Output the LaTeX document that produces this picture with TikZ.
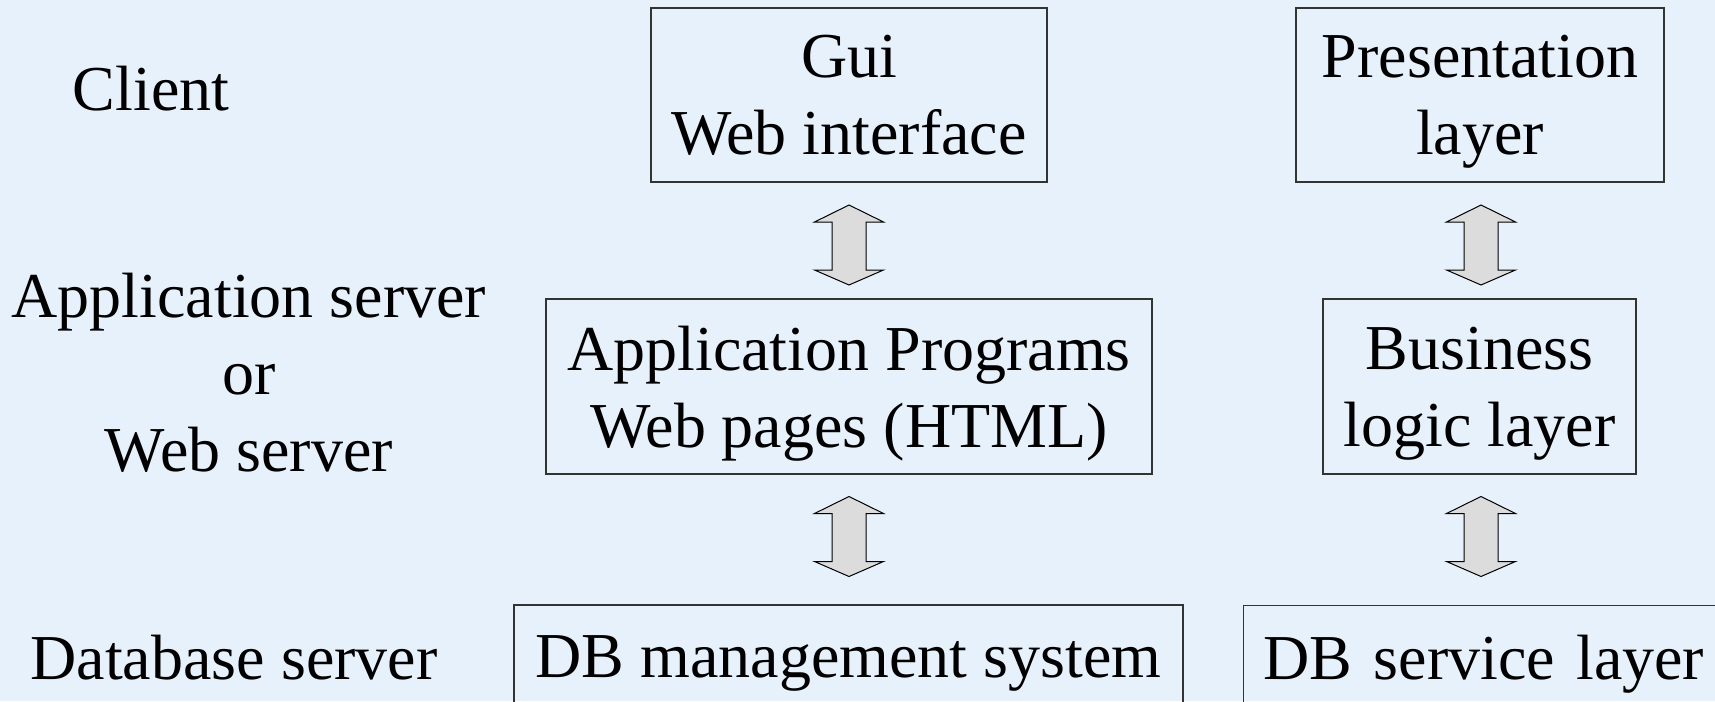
\documentclass[tikz,border=0pt]{standalone}
\usepackage{fontspec}
\setmainfont{Liberation Serif}
\usetikzlibrary{calc}
\definecolor{bgblue}{RGB}{231,241,252}
\definecolor{arrowgray}{RGB}{220,220,220}
\tikzset{
  textfont/.style={font=\fontsize{64}{77}\selectfont, text depth=0pt},
  layerbox/.style={textfont, draw=black!80, line width=1.1pt, rectangle,
    inner sep=0pt, align=center},
  tierlabel/.style={textfont, inner sep=0pt, align=center},
  dblarrow/.style={fill=arrowgray, draw=black, line width=1pt, line join=miter}
}
% vertical double block arrow around a named centre point
\newcommand{\tierarrow}[1]{%
  \draw[dblarrow] ($(#1)+(0,-40)$) -- ($(#1)+(34.5,-23)$) -- ($(#1)+(17,-23)$)
    -- ($(#1)+(17,25)$) -- ($(#1)+(34.5,25)$) -- ($(#1)+(0,40)$)
    -- ($(#1)+(-34.5,25)$) -- ($(#1)+(-17,25)$) -- ($(#1)+(-17,-23)$)
    -- ($(#1)+(-34.5,-23)$) -- cycle;}
\begin{document}
\begin{tikzpicture}[x=1pt,y=-1pt]
  \useasboundingbox (0,0) rectangle (1715,701);
  \clip (0,0) rectangle (1715,701);
  \fill[bgblue] (0,0) rectangle (1715,701);

  % tier names
  \node[tierlabel] (client) at (151,88) {Client};
  \node[tierlabel] (appsrv) at (249,372) {Application server\\or\\Web server};
  \node[tierlabel] (dbsrv) at (234,657) {Database server};

  % web architecture column
  \node[layerbox, minimum width=396, minimum height=174] (gui) at (849,95)
    {Gui\\Web interface};
  \node[layerbox, minimum width=606, minimum height=175] (app) at (849,386.5)
    {Application Programs\\Web pages (HTML)};
  \node[layerbox, minimum width=669, minimum height=104] (dbms) at (848.5,657)
    {DB management system};

  % layered architecture column
  \node[layerbox, minimum width=368, minimum height=174] (pres) at (1480,95)
    {Presentation\\layer};
  \node[layerbox, minimum width=313, minimum height=175] (biz) at (1479.5,386.5)
    {Business\\logic layer};
  \node[layerbox, anchor=north west, align=left, text width=460,
    inner xsep=20pt, minimum height=104] (dbsl) at (1243,605)
    {DB service layer};

  % connectors between the layers
  \coordinate (a1) at (849,245);
  \coordinate (a2) at (1481,245);
  \coordinate (a3) at (849,536.5);
  \coordinate (a4) at (1481,536.5);
  \tierarrow{a1}
  \tierarrow{a2}
  \tierarrow{a3}
  \tierarrow{a4}
\end{tikzpicture}
\end{document}
